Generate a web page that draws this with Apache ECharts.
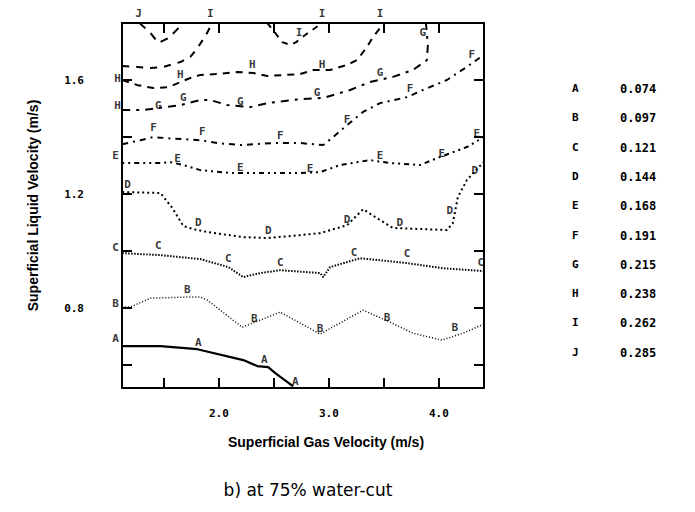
<!DOCTYPE html>
<html><head><meta charset="utf-8">
<script src="https://cdn.jsdelivr.net/npm/echarts@6/dist/echarts.min.js"></script>
<style>html,body{margin:0;padding:0;background:#fff}#c{width:695px;height:512px}</style>
</head><body><div id="c"></div>
<script>
// ---- data ----
const levelNames = ['A','B','C','D','E','F','G','H','I','J'];
const levelValues = ['0.074','0.097','0.121','0.144','0.168','0.191','0.215','0.238','0.262','0.285'];
const xTicks = [1.5, 2.0, 2.5, 3.0, 3.5, 4.0];
const xTickLabels = [2.0, 3.0, 4.0];
const yTicks = [0.6, 0.8, 1.0, 1.2, 1.4, 1.6];
const yTickLabels = [0.8, 1.2, 1.6];

const lineA = [[1.122,0.667],[1.469,0.667],[1.805,0.656],[2.222,0.618],[2.349,0.597],[2.449,0.593],[2.513,0.572],[2.676,0.526]];
const lineB = [[1.122,0.804],[1.197,0.804],[1.379,0.835],[1.723,0.839],[1.832,0.839],[1.896,0.828],[2.213,0.733],[2.558,0.786],[2.921,0.709],[3.311,0.793],[3.556,0.751],[3.764,0.712],[4.027,0.688],[4.218,0.712],[4.408,0.744]];
const lineC = [[1.122,0.993],[1.469,0.986],[1.832,0.972],[2.086,0.944],[2.222,0.909],[2.376,0.923],[2.558,0.933],[2.921,0.923],[2.948,0.909],[3.011,0.944],[3.283,0.975],[3.465,0.968],[3.710,0.958],[4.036,0.940],[4.408,0.930]];
const lineD = [[1.122,1.207],[1.469,1.204],[1.578,1.151],[1.678,1.088],[1.769,1.077],[1.896,1.067],[2.222,1.049],[2.440,1.046],[2.739,1.056],[2.921,1.063],[3.166,1.091],[3.311,1.147],[3.465,1.109],[3.583,1.081],[4.073,1.074],[4.127,1.098],[4.172,1.189],[4.254,1.249],[4.336,1.284],[4.408,1.312]];
const lineE = [[1.122,1.309],[1.469,1.309],[1.560,1.312],[1.678,1.302],[1.832,1.284],[2.104,1.274],[2.376,1.274],[2.739,1.274],[2.921,1.277],[3.102,1.302],[3.374,1.319],[3.556,1.309],[3.828,1.302],[3.982,1.326],[4.254,1.365],[4.408,1.400]];
const lineF = [[1.122,1.375],[1.288,1.389],[1.406,1.400],[1.533,1.396],[1.832,1.389],[1.986,1.379],[2.195,1.372],[2.494,1.379],[2.739,1.379],[2.948,1.372],[3.039,1.400],[3.166,1.442],[3.311,1.488],[3.465,1.519],[3.710,1.540],[3.855,1.565],[4.073,1.600],[4.254,1.646],[4.408,1.688]];
const lineG = [[1.122,1.495],[1.315,1.495],[1.515,1.505],[1.651,1.512],[1.832,1.530],[1.923,1.530],[2.077,1.512],[2.286,1.505],[2.440,1.519],[2.739,1.533],[2.948,1.537],[3.193,1.565],[3.374,1.593],[3.583,1.611],[3.764,1.635],[3.891,1.670],[3.900,1.723],[3.882,1.800]];
const lineH = [[1.122,1.600],[1.261,1.582],[1.406,1.572],[1.542,1.575],[1.651,1.593],[1.741,1.607],[1.832,1.618],[1.986,1.621],[2.168,1.628],[2.313,1.625],[2.440,1.614],[2.739,1.621],[2.857,1.635],[3.011,1.635],[3.166,1.653],[3.256,1.670],[3.347,1.716],[3.401,1.751],[3.465,1.782],[3.492,1.800]];
const lineI1 = [[1.122,1.649],[1.261,1.646],[1.379,1.642],[1.497,1.646],[1.651,1.663],[1.741,1.681],[1.805,1.712],[1.878,1.754],[1.941,1.800]];
const lineI2 = [[2.440,1.800],[2.513,1.765],[2.576,1.733],[2.649,1.723],[2.703,1.733],[2.785,1.758],[2.848,1.775],[2.939,1.800]];
const lineJ = [[1.279,1.800],[1.379,1.765],[1.451,1.730],[1.542,1.747],[1.615,1.775],[1.678,1.800]];

const contourLabels = [
  [1.061,0.695,'A'],[1.814,0.681,'A'],[2.413,0.621,'A'],[2.694,0.544,'A'],
  [1.061,0.818,'B'],[1.714,0.867,'B'],[2.322,0.765,'B'],[2.921,0.730,'B'],[3.528,0.768,'B'],[4.145,0.733,'B'],
  [1.061,1.014,'C'],[1.451,1.021,'C'],[2.086,0.975,'C'],[2.558,0.961,'C'],[3.229,0.996,'C'],[3.710,0.993,'C'],[4.381,0.961,'C'],
  [1.170,1.232,'D'],[1.814,1.102,'D'],[2.449,1.074,'D'],[3.166,1.112,'D'],[3.646,1.102,'D'],[4.100,1.144,'D'],[4.327,1.281,'D'],
  [1.061,1.337,'E'],[1.624,1.326,'E'],[2.195,1.295,'E'],[2.830,1.291,'E'],[3.465,1.337,'E'],[4.027,1.344,'E'],[4.345,1.414,'E'],
  [1.406,1.432,'F'],[1.850,1.418,'F'],[2.558,1.407,'F'],[3.166,1.460,'F'],[3.737,1.572,'F'],[4.299,1.688,'F'],
  [1.451,1.512,'G'],[1.678,1.540,'G'],[2.195,1.523,'G'],[2.893,1.558,'G'],[3.465,1.628,'G'],[3.855,1.765,'G'],
  [1.079,1.607,'H'],[1.079,1.512,'H'],[1.651,1.618,'H'],[2.304,1.653,'H'],[2.939,1.653,'H'],
  [1.923,1.832,'I'],[2.730,1.768,'I'],[2.939,1.832,'I'],[3.465,1.832,'I'],
  [1.270,1.832,'J']
];

// ---- chart ----
const chart = echarts.init(document.getElementById('c'), null, {renderer:'svg'});
const dotFont = {fontFamily:'DejaVu Sans Mono', fontWeight:'bold', fontSize:11, color:'#000', textBorderWidth:0};
const X0 = 1.12, X1 = 4.41, Y0 = 0.52, Y1 = 1.80;

function mkLine(name, data, type, width){
  return {type:'line', name, data, symbol:'none', showSymbol:false, smooth:false, animation:false,
    lineStyle:{color:'#000', width, type}, z:3};
}
const series = [
  mkLine('A', lineA, 'solid', 2.2),
  mkLine('B', lineB, [1,2], 1.5),
  mkLine('C', lineC, [1.5,1.5], 2),
  mkLine('D', lineD, [2,3], 2),
  mkLine('E', lineE, [2,4,2,4,5,4], 2),
  mkLine('F', lineF, [6,5,2,5], 2),
  mkLine('G', lineG, [8,6,3,6], 2),
  mkLine('H', lineH, [7,6], 2),
  mkLine('I', lineI1, [7,7], 2),
  mkLine('I', lineI2, [6,6], 2),
  mkLine('J', lineJ, [8,7], 2),
  {type:'scatter', name:'labels', data:contourLabels, symbol:'circle', symbolSize:1,
   itemStyle:{color:'rgba(255,255,255,0)'}, clip:false, animation:false, silent:true,
   label:{show:true, position:'inside', formatter:p=>p.value[2], ...dotFont}, z:5}
];

const axisLineStyle = {show:true, onZero:false, lineStyle:{color:'#000', width:2}};
const option = {
  backgroundColor:'#fff',
  animation:false,
  grid:{left:122, right:211, top:23, bottom:124, containLabel:false},
  title:{text:'b) at 75% water-cut', left:303, top:476, textAlign:'center',
    textStyle:{fontFamily:'DejaVu Sans', fontWeight:'normal', fontSize:17, color:'#000'}},
  xAxis:[
    {type:'value', min:X0, max:X1, position:'bottom', axisLine:axisLineStyle,
     axisTick:{show:true, inside:true, length:10, customValues:xTicks, lineStyle:{color:'#000', width:2}},
     axisLabel:{show:true, customValues:xTickLabels, formatter:v=>v.toFixed(1), margin:20, ...dotFont},
     splitLine:{show:false},
     name:'Superficial Gas Velocity (m/s)', nameLocation:'middle', nameGap:47,
     nameTextStyle:{fontFamily:'Liberation Sans', fontWeight:'bold', fontSize:14, color:'#000', padding:[0,0,0,46]}},
    {type:'value', min:X0, max:X1, position:'top', axisLine:axisLineStyle,
     axisTick:{show:true, inside:true, length:10, customValues:xTicks, lineStyle:{color:'#000', width:2}},
     axisLabel:{show:false}, splitLine:{show:false}}
  ],
  yAxis:[
    {type:'value', min:Y0, max:Y1, position:'left', axisLine:axisLineStyle,
     axisTick:{show:true, inside:true, length:10, customValues:yTicks, lineStyle:{color:'#000', width:2}},
     axisLabel:{show:true, customValues:yTickLabels, formatter:v=>v.toFixed(1), margin:38, ...dotFont},
     splitLine:{show:false},
     name:'Superficial Liquid Velocity (m/s)', nameLocation:'middle', nameGap:82, nameRotate:90,
     nameTextStyle:{fontFamily:'Liberation Sans', fontWeight:'bold', fontSize:14, color:'#000'}},
    {type:'value', min:Y0, max:Y1, position:'right', axisLine:axisLineStyle,
     axisTick:{show:true, inside:true, length:10, customValues:yTicks, lineStyle:{color:'#000', width:2}},
     axisLabel:{show:false}, splitLine:{show:false}}
  ],
  series,
  graphic: levelNames.flatMap((n,i)=>{
    const y = 90 + i*29.3;
    return [
      {type:'text', left:572, top:y-7, style:{text:n, font:'bold 11px "DejaVu Sans Mono"', fill:'#000'}},
      {type:'text', left:620, top:y-7, style:{text:levelValues[i], font:'bold 12px "DejaVu Sans Mono"', fill:'#000'}}
    ];
  })
};
chart.setOption(option);
</script></body></html>
